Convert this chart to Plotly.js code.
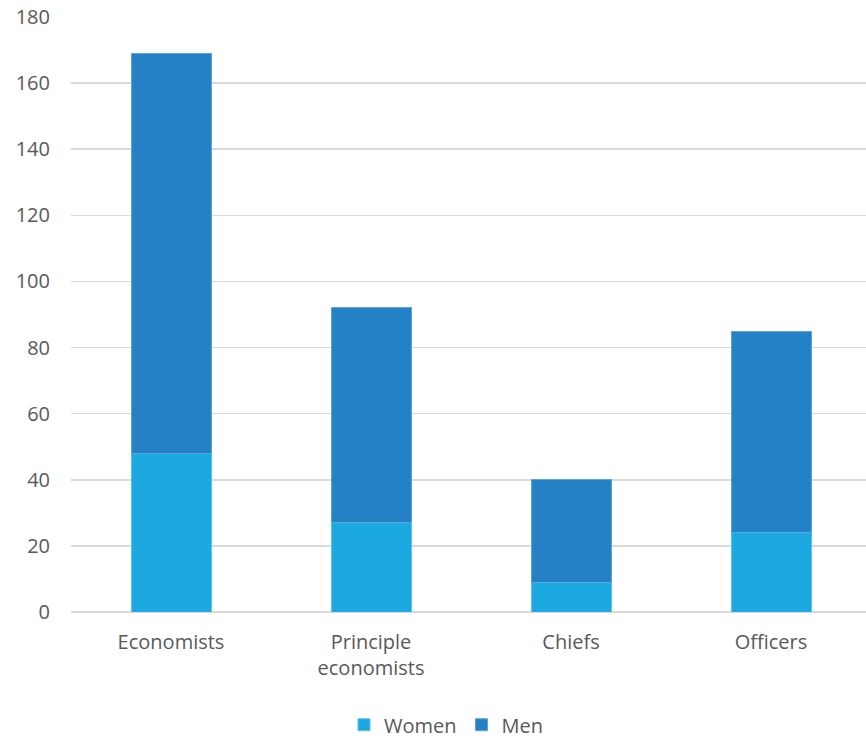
<!DOCTYPE html>
<html>
<head>
<meta charset="utf-8">
<script src="https://cdn.plot.ly/plotly-3.0.1.min.js"></script>
<style>
  html, body { margin: 0; padding: 0; background: #fff; }
  #chart { width: 866px; height: 738px; }
</style>
</head>
<body>
<div id="chart"></div>
<script>
// Staff by position and gender
const categories = ['Economists', 'Principle<br>economists', 'Chiefs', 'Officers'];
const women = [48, 27, 9, 24];
const men = [121, 65, 31, 61];
const yTicks = [0, 20, 40, 60, 80, 100, 120, 140, 160, 180];

const font = { family: '"Open Sans", "Noto Sans", sans-serif', size: 20, color: '#595959' };

const traces = [
  {
    type: 'bar', name: 'Women', x: categories, y: women,
    marker: { color: '#1CA9E1', line: { color: '#5BC3EC', width: 1 } },
    hoverinfo: 'y+name'
  },
  {
    type: 'bar', name: 'Men', x: categories, y: men,
    marker: { color: '#2481C5', line: { color: '#5FA5DA', width: 1 } },
    hoverinfo: 'y+name'
  }
];

const layout = {
  width: 866, height: 738,
  barmode: 'stack',
  bargap: 0.6,
  margin: { l: 71, r: 0, t: 17, b: 126, autoexpand: false },
  paper_bgcolor: '#fff', plot_bgcolor: '#fff',
  font: font,
  showlegend: true,
  legend: {
    orientation: 'h', x: 0.515, xref: 'container', xanchor: 'center',
    y: 0.018, yref: 'container', yanchor: 'middle',
    font: font, itemwidth: 30, traceorder: 'normal'
  },
  xaxis: {
    range: [-0.5, 3.475],
    showgrid: false, zeroline: false, showline: false,
    ticks: '', tickfont: font, ticklabelstandoff: 16, fixedrange: true
  },
  yaxis: {
    range: [0, 180],
    tickvals: yTicks,
    ticktext: yTicks.map(String),
    showgrid: true, gridcolor: '#D9D9D9', gridwidth: 1.5,
    zeroline: true, zerolinecolor: '#D9D9D9', zerolinewidth: 1.5,
    showline: false, ticks: '', ticklen: 0,
    tickfont: font, ticklabelstandoff: 20, fixedrange: true
  }
};

Plotly.newPlot('chart', traces, layout, { displayModeBar: false, staticPlot: true });
</script>
</body>
</html>
